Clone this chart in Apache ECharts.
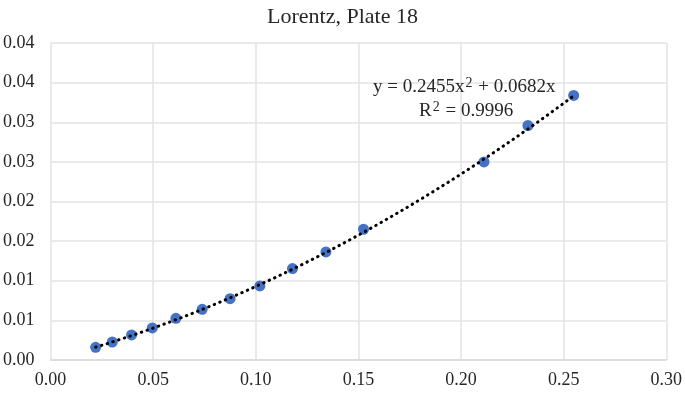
<!DOCTYPE html>
<html>
<head>
<meta charset="utf-8">
<script src="https://cdn.jsdelivr.net/npm/echarts@6/dist/echarts.min.js"></script>
<style>html,body{margin:0;padding:0;background:#fff}#c{width:685px;height:393px}</style>
</head>
<body>
<div id="c"></div>
<script>
// Data
const xValues = [0.0220, 0.0301, 0.0395, 0.0496, 0.0611, 0.0739, 0.0875, 0.1020, 0.1179, 0.1342, 0.1525, 0.2112, 0.2326, 0.2549];
const yValues = [0.00160, 0.00227, 0.00316, 0.00404, 0.00526, 0.00640, 0.00774, 0.00934, 0.01153, 0.01364, 0.01650, 0.02500, 0.02959, 0.03338];
const xTickLabels = ['0.00', '0.05', '0.10', '0.15', '0.20', '0.25', '0.30'];
const yTickLabels = ['0.00', '0.01', '0.01', '0.02', '0.02', '0.03', '0.03', '0.04', '0.04'];
// Trendline as printed on the chart: y = a x^2 + b x
const trendA = 0.2455;
const trendB = 0.0682;
const trendText1 = '0.2455';
const trendText2 = '0.0682';
const r2Text = '0.9996';

const points = xValues.map((x, i) => [x, yValues[i]]);
const xMinT = xValues[0], xMaxT = xValues[xValues.length - 1];
const trend = [];
const nT = 80;
for (let i = 0; i <= nT; i++) {
  const x = xMinT + (xMaxT - xMinT) * i / nT;
  trend.push([x, trendA * x * x + trendB * x]);
}

const font = '"Liberation Serif", "Times New Roman", serif';
const txt = '#262626';
const chart = echarts.init(document.getElementById('c'), null, {renderer: 'canvas'});
const rich = {
  n: {fontFamily: font, fontSize: 19, fill: txt, color: txt, lineHeight: 22},
  s: {fontFamily: font, fontSize: 14, fill: txt, color: txt, verticalAlign: 'top', lineHeight: 22, padding: [0, 1, 11, 1]}
};
chart.setOption({
  animation: false,
  title: {
    text: 'Lorentz, Plate 18',
    left: 'center',
    top: 1,
    textStyle: {fontFamily: font, fontSize: 22, fontWeight: 'normal', color: txt}
  },
  grid: {left: 49, right: 18, top: 43, bottom: 33},
  xAxis: {
    type: 'value', min: 0, max: 0.3, interval: 0.05,
    axisLine: {show: true, lineStyle: {color: '#d9d9d9', width: 1.5}},
    axisTick: {show: false},
    splitLine: {show: true, lineStyle: {color: '#e3e3e3', width: 1.5}},
    axisLabel: {
      fontFamily: font, fontSize: 18, color: txt, margin: 11,
      formatter: v => xTickLabels[Math.round(v / 0.05)]
    }
  },
  yAxis: {
    type: 'value', min: 0, max: 0.04, interval: 0.005,
    axisLine: {show: false},
    axisTick: {show: false},
    splitLine: {show: true, lineStyle: {color: '#e3e3e3', width: 1.5}},
    axisLabel: {
      fontFamily: font, fontSize: 18, color: txt, margin: 16,
      formatter: v => yTickLabels[Math.round(v / 0.005)]
    }
  },
  series: [
    {
      type: 'scatter', data: points, symbol: 'circle', symbolSize: 11,
      itemStyle: {color: '#4472C4', opacity: 1}, z: 2
    },
    {
      type: 'line', data: trend, showSymbol: false, symbol: 'none', smooth: false,
      lineStyle: {color: '#000', width: 3, type: [0.5, 5.5], cap: 'round'}, z: 3
    }
  ],
  graphic: [
    {
      type: 'text', left: 373, top: 76, z: 10,
      style: {text: '{n|y = ' + trendText1 + 'x}{s|2}{n| + ' + trendText2 + 'x}', rich: rich}
    },
    {
      type: 'text', left: 419, top: 100, z: 10,
      style: {text: '{n|R}{s|2}{n| = ' + r2Text + '}', rich: rich}
    }
  ]
});
</script>
</body>
</html>
